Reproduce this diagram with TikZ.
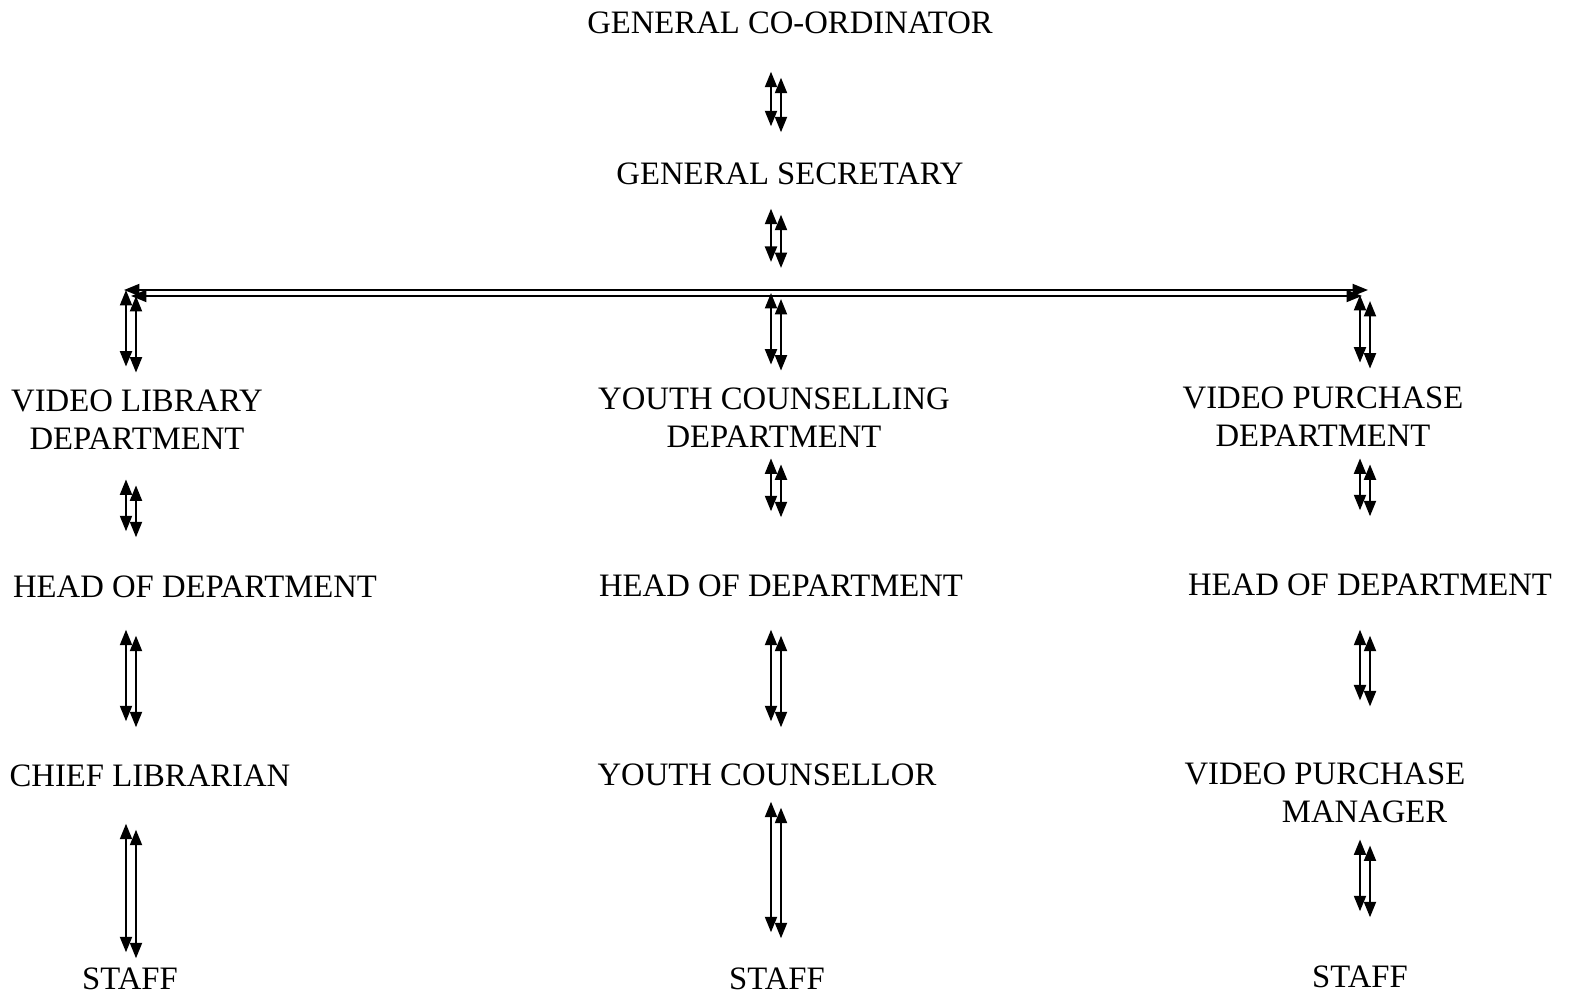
\documentclass[tikz,border=0pt]{standalone}
\usepackage{fontspec}
\setmainfont{Liberation Serif}
\usetikzlibrary{arrows.meta, calc}
\tikzset{
	post/.style={inner sep=0pt, align=center, font=\fontsize{9.3}{10.7}\selectfont},
	twoway/.style={{Triangle[length=4.4pt, width=3.4pt]}-{Triangle[length=4.4pt, width=3.4pt]}, line width=0.6pt},
}
% a pair of two-headed lines, the right one set a little lower
\newcommand{\pairarrow}[4]{%
	\draw[twoway, shorten <=#3, shorten >=#4] ([xshift=-0.05cm]#1) -- ([xshift=-0.05cm]#2);
	\draw[twoway, shorten <=#3, shorten >=#4] ([xshift=0.05cm, yshift=-0.06cm]#1) -- ([xshift=0.05cm, yshift=-0.06cm]#2);
}
\begin{document}
\begin{tikzpicture}[x=0.01cm, y=-0.01cm]
	\useasboundingbox (0,0) rectangle (1569,998);
	% top of the chart
	\node[post] (gco) at (790,23) {GENERAL CO-ORDINATOR};
	\node[post] (gsec) at (790,174) {GENERAL SECRETARY};
	\coordinate (jL) at (131,290);
	\coordinate (jM) at (776,290);
	\coordinate (jR) at (1365,290);
	% departments
	\node[post] (vld) at (137,420) {VIDEO LIBRARY\\DEPARTMENT};
	\node[post] (ycd) at (774,418) {YOUTH COUNSELLING\\DEPARTMENT};
	\node[post] (vpd) at (1323,417) {VIDEO PURCHASE\\DEPARTMENT};
	\node[post] (hodL) at (195,587) {HEAD OF DEPARTMENT};
	\node[post] (hodM) at (781,586) {HEAD OF DEPARTMENT};
	\node[post] (hodR) at (1370,585) {HEAD OF DEPARTMENT};
	\node[post] (chief) at (150,776) {CHIEF LIBRARIAN};
	\node[post] (yc) at (767,775) {YOUTH COUNSELLOR};
	\node[post, align=right, anchor=east] (vpm) at (1466,793) {VIDEO PURCHASE\\MANAGER\hspace{0.18cm}\mbox{}};
	\node[post] (staffL) at (130,979) {STAFF};
	\node[post] (staffM) at (777,979) {STAFF};
	\node[post] (staffR) at (1360,977) {STAFF};

	\pairarrow{gco.south -| jM}{gsec.north -| jM}{0.37cm}{0.36cm}
	\pairarrow{gsec.south -| jM}{jM}{0.23cm}{0.28cm}
	% the bar
	\draw[twoway] ([xshift=-0.07cm]jL) -- ([xshift=0.03cm]jR);
	\draw[twoway] ([yshift=-0.06cm]jL) -- ([xshift=-0.03cm, yshift=-0.06cm]jR);
	\pairarrow{jL}{vld.north -| jL}{0cm}{0.23cm}
	\pairarrow{jM}{ycd.north -| jM}{0.03cm}{0.23cm}
	\pairarrow{jR}{vpd.north -| jR}{0.05cm}{0.24cm}

	\pairarrow{vld.south -| jL}{hodL.north -| jL}{0.29cm}{0.44cm}
	\pairarrow{ycd.south -| jM}{hodM.north -| jM}{0.10cm}{0.63cm}
	\pairarrow{vpd.south -| jR}{hodR.north -| jR}{0.11cm}{0.63cm}

	\pairarrow{hodL.south -| jL}{chief.north -| jL}{0.31cm}{0.43cm}
	\pairarrow{hodM.south -| jM}{yc.north -| jM}{0.32cm}{0.42cm}
	\pairarrow{hodR.south -| jR}{vpm.north -| jR}{0.33cm}{0.62cm}

	\pairarrow{chief.south -| jL}{staffL.north -| jL}{0.36cm}{0.15cm}
	\pairarrow{yc.south -| jM}{staffM.north -| jM}{0.15cm}{0.35cm}
	\pairarrow{vpm.south -| jR}{staffR.north -| jR}{0.16cm}{0.54cm}
\end{tikzpicture}
\end{document}
